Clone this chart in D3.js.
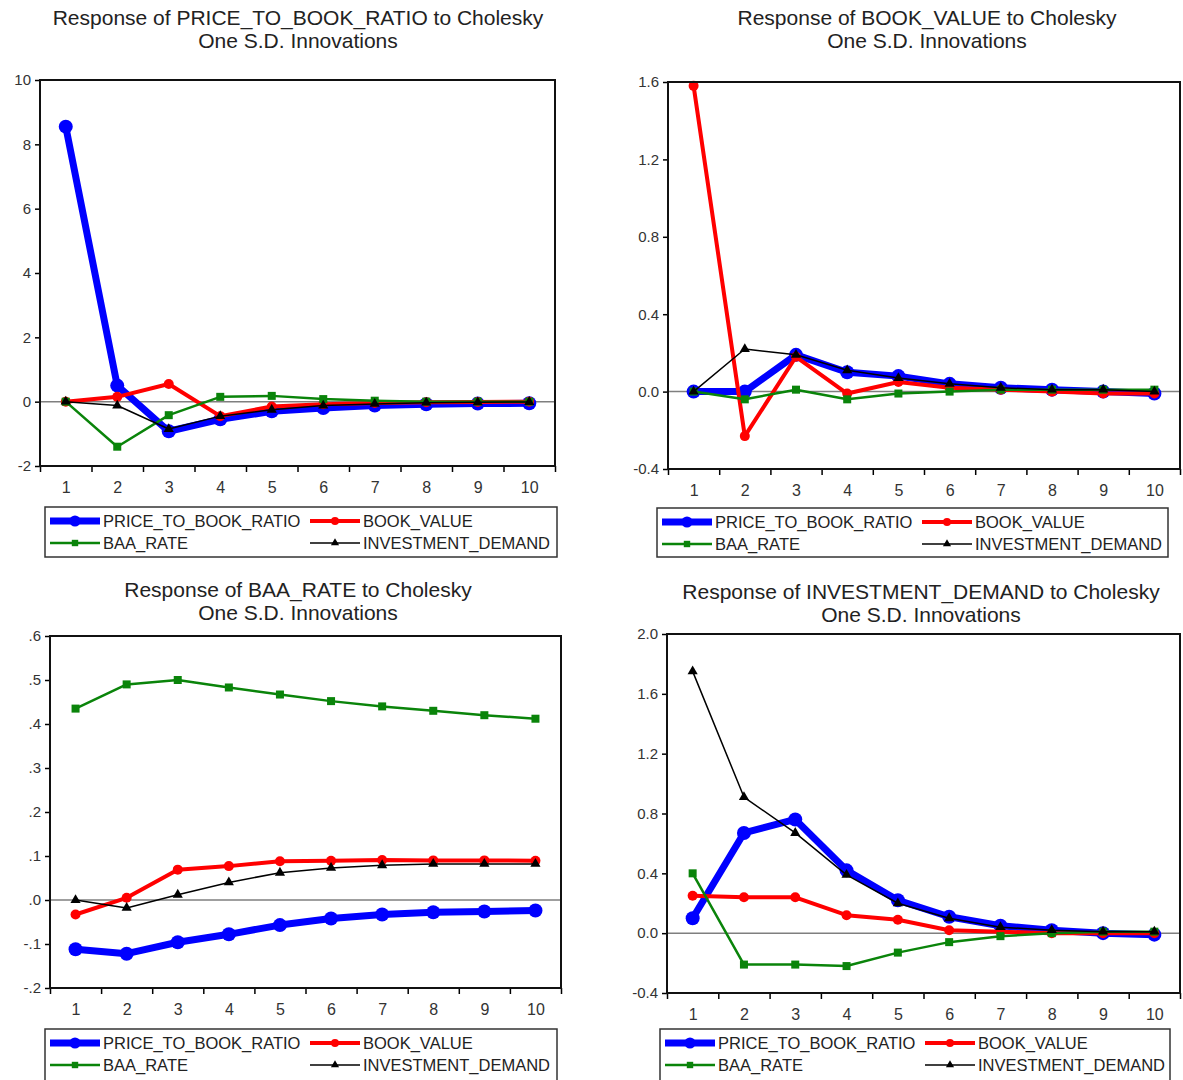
<!DOCTYPE html>
<html>
<head>
<meta charset="utf-8">
<script src="https://cdn.jsdelivr.net/npm/d3@7"></script>
<style>
  body { margin: 0; background: #fff; }
  svg { font-family: "Liberation Sans", Arial, sans-serif; }
  .tick text { fill: #333; }
</style>
</head>
<body>
<div id="wrapper"></div>
<script>
// periods on the x axis
const periods = [1, 2, 3, 4, 5, 6, 7, 8, 9, 10];
const seriesNames = ['PRICE_TO_BOOK_RATIO', 'BOOK_VALUE', 'BAA_RATE', 'INVESTMENT_DEMAND'];

// response of PRICE_TO_BOOK_RATIO
const ptbToPTB = [8.55, 0.50, -0.92, -0.55, -0.30, -0.20, -0.12, -0.08, -0.06, -0.05];
const ptbToBV  = [0.00, 0.15, 0.55, -0.45, -0.15, -0.08, -0.04, -0.02, -0.01, 0.00];
const ptbToBAA = [0.00, -1.40, -0.42, 0.15, 0.18, 0.08, 0.03, 0.00, 0.00, 0.00];
const ptbToID  = [0.00, -0.12, -0.85, -0.45, -0.25, -0.12, -0.07, -0.03, -0.02, -0.01];

// response of BOOK_VALUE
const bvToPTB = [0.00, 0.00, 0.19, 0.10, 0.08, 0.04, 0.02, 0.01, 0.00, -0.01];
const bvToBV  = [1.58, -0.23, 0.18, -0.01, 0.05, 0.02, 0.01, 0.00, -0.01, -0.01];
const bvToBAA = [0.00, -0.04, 0.01, -0.04, -0.01, 0.00, 0.01, 0.01, 0.01, 0.01];
const bvToID  = [0.00, 0.22, 0.19, 0.11, 0.07, 0.04, 0.02, 0.01, 0.01, 0.00];

// response of BAA_RATE
const baaToPTB = [-0.112, -0.122, -0.096, -0.078, -0.057, -0.042, -0.033, -0.028, -0.026, -0.024];
const baaToBV  = [-0.033, 0.005, 0.069, 0.077, 0.088, 0.089, 0.091, 0.090, 0.090, 0.089];
const baaToBAA = [0.435, 0.490, 0.500, 0.483, 0.467, 0.452, 0.440, 0.430, 0.420, 0.412];
const baaToID  = [0.000, -0.018, 0.012, 0.040, 0.062, 0.073, 0.079, 0.082, 0.082, 0.082];

// response of INVESTMENT_DEMAND
const idToPTB = [0.10, 0.67, 0.76, 0.42, 0.22, 0.11, 0.05, 0.02, 0.00, -0.01];
const idToBV  = [0.25, 0.24, 0.24, 0.12, 0.09, 0.02, 0.01, 0.00, 0.00, 0.00];
const idToBAA = [0.40, -0.21, -0.21, -0.22, -0.13, -0.06, -0.02, 0.00, 0.01, 0.01];
const idToID  = [1.75, 0.91, 0.67, 0.39, 0.20, 0.10, 0.04, 0.02, 0.01, 0.01];

// y ticks for each panel
const ticksPTB = [-2, 0, 2, 4, 6, 8, 10];
const ticksBV  = [-0.4, 0.0, 0.4, 0.8, 1.2, 1.6];
const ticksBAA = [-0.2, -0.1, 0.0, 0.1, 0.2, 0.3, 0.4, 0.5, 0.6];
const ticksID  = [-0.4, 0.0, 0.4, 0.8, 1.2, 1.6, 2.0];

// plain hyphen minus like the original
const loc = d3.formatLocale({ decimal: '.', thousands: ',', grouping: [3], currency: ['', ''], minus: '-' });
const fmtInt = loc.format('d');
const fmtOne = loc.format('.1f');

const styles = [
  { color: '#0000ff', width: 7,   marker: 'circle', size: 7 },
  { color: '#ff0000', width: 4,   marker: 'circle', size: 5 },
  { color: '#0a840a', width: 2.5, marker: 'square', size: 8 },
  { color: '#000000', width: 1.5, marker: 'triangle', size: 8 }
];

const panels = [
  { name: 'PRICE_TO_BOOK_RATIO', data: [ptbToPTB, ptbToBV, ptbToBAA, ptbToID], ticks: ticksPTB, fmt: fmtInt,
    box: { x: 40, y: 80, w: 515, h: 386 }, titleX: 298, titleY: 18, legend: { x: 45, y: 507, w: 512, h: 50 } },
  { name: 'BOOK_VALUE', data: [bvToPTB, bvToBV, bvToBAA, bvToID], ticks: ticksBV, fmt: fmtOne,
    box: { x: 668, y: 82, w: 512, h: 387 }, titleX: 927, titleY: 18, legend: { x: 657, y: 508, w: 511, h: 49 } },
  { name: 'BAA_RATE', data: [baaToPTB, baaToBV, baaToBAA, baaToID], ticks: ticksBAA,
    fmt: d => fmtOne(d).replace('0.', '.'),
    box: { x: 50, y: 636, w: 511, h: 352 }, titleX: 298, titleY: 590, legend: { x: 45, y: 1029, w: 512, h: 60 } },
  { name: 'INVESTMENT_DEMAND', data: [idToPTB, idToBV, idToBAA, idToID], ticks: ticksID, fmt: fmtOne,
    box: { x: 667, y: 634, w: 513, h: 359 }, titleX: 921, titleY: 592, legend: { x: 660, y: 1029, w: 510, h: 60 } }
];

const svg = d3.select('#wrapper').append('svg')
  .attr('width', 1183)
  .attr('height', 1080);

function drawMarker(g, type, x, y, size, color) {
  if (type === 'circle') {
    g.append('circle').attr('cx', x).attr('cy', y).attr('r', size).attr('fill', color);
  } else if (type === 'square') {
    g.append('rect').attr('x', x - size / 2).attr('y', y - size / 2)
      .attr('width', size).attr('height', size).attr('fill', color);
  } else {
    const sym = d3.symbol().type(d3.symbolTriangle).size(size * size * 0.7);
    g.append('path').attr('d', sym()).attr('transform', `translate(${x},${y})`).attr('fill', color);
  }
}

panels.forEach(p => {
  const b = p.box;
  const g = svg.append('g');

  const xScale = d3.scaleLinear().domain([0.5, 10.5]).range([b.x, b.x + b.w]);
  const yScale = d3.scaleLinear().domain(d3.extent(p.ticks)).range([b.y + b.h, b.y]);

  // title
  const title = g.append('text').attr('text-anchor', 'middle').attr('fill', '#222')
    .style('font-size', '21px');
  title.append('tspan').attr('x', p.titleX).attr('y', p.titleY + 7).text(`Response of ${p.name} to Cholesky`);
  title.append('tspan').attr('x', p.titleX).attr('y', p.titleY + 30).text('One S.D. Innovations');

  // y axis
  const yAxis = d3.axisLeft(yScale).tickValues(p.ticks).tickFormat(p.fmt).tickSize(5).tickPadding(4);
  const ya = g.append('g').attr('transform', `translate(${b.x},0)`).call(yAxis);
  ya.select('.domain').remove();
  ya.selectAll('line').attr('stroke', '#000').attr('stroke-width', 1.5);
  ya.selectAll('text').style('font-size', '15px');

  // x axis: ticks at band edges, labels at centres
  const xTicks = d3.axisBottom(xScale).tickValues(d3.range(0.5, 11, 1)).tickFormat('').tickSize(6);
  const xa = g.append('g').attr('transform', `translate(0,${b.y + b.h})`).call(xTicks);
  xa.select('.domain').remove();
  xa.selectAll('line').attr('stroke', '#000').attr('stroke-width', 1.5);

  const xLabels = d3.axisBottom(xScale).tickValues(periods).tickSize(0).tickPadding(16);
  const xl = g.append('g').attr('transform', `translate(0,${b.y + b.h})`).call(xLabels);
  xl.select('.domain').remove();
  xl.selectAll('text').style('font-size', '16px');

  // zero line
  g.append('line')
    .attr('x1', b.x).attr('x2', b.x + b.w)
    .attr('y1', yScale(0)).attr('y2', yScale(0))
    .attr('stroke', '#7f7f7f').attr('stroke-width', 1.5);

  // series
  const line = d3.line().x((d, i) => xScale(periods[i])).y(d => yScale(d));
  p.data.forEach((vals, k) => {
    const s = styles[k];
    const sg = g.append('g');
    sg.append('path').attr('d', line(vals)).attr('fill', 'none')
      .attr('stroke', s.color).attr('stroke-width', s.width).attr('stroke-linejoin', 'round');
    vals.forEach((v, i) => drawMarker(sg, s.marker, xScale(periods[i]), yScale(v), s.size, s.color));
  });

  // frame
  g.append('rect').attr('x', b.x).attr('y', b.y).attr('width', b.w).attr('height', b.h)
    .attr('fill', 'none').attr('stroke', '#111').attr('stroke-width', 2);

  // legend
  const L = p.legend;
  const lg = g.append('g');
  lg.append('rect').attr('x', L.x).attr('y', L.y).attr('width', L.w).attr('height', L.h)
    .attr('fill', '#fff').attr('stroke', '#333').attr('stroke-width', 1.5);
  seriesNames.forEach((n, k) => {
    const s = styles[k];
    const col = k % 2, row = Math.floor(k / 2);
    const x0 = L.x + (col === 0 ? 5 : 265);
    const y0 = L.y + 14 + row * 22;
    lg.append('line').attr('x1', x0).attr('x2', x0 + 50).attr('y1', y0).attr('y2', y0)
      .attr('stroke', s.color).attr('stroke-width', s.width);
    drawMarker(lg, s.marker, x0 + 25, y0, s.size * 0.8, s.color);
    lg.append('text').attr('x', x0 + 53).attr('y', y0 + 6).attr('fill', '#222')
      .style('font-size', '16.5px').text(n);
  });
});
</script>
</body>
</html>
